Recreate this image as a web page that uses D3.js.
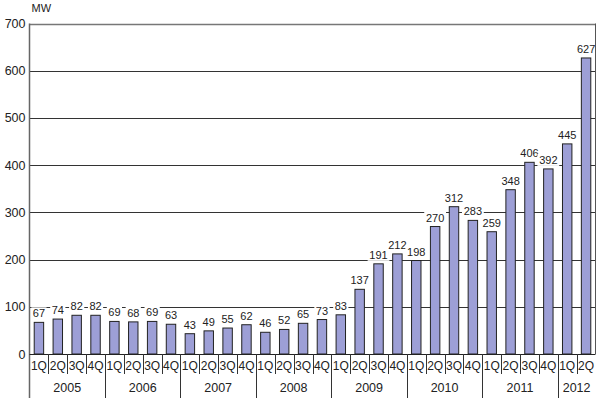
<!DOCTYPE html>
<html>
<head>
<meta charset="utf-8">
<script src="https://cdn.jsdelivr.net/npm/d3@7"></script>
<style>
  body { margin: 0; background: #fff; }
  svg { display: block; font-family: "Liberation Sans", Arial, sans-serif; }
</style>
</head>
<body>
<div id="chart"></div>
<script>
// quarterly values (MW)
const years = ["2005", "2006", "2007", "2008", "2009", "2010", "2011", "2012"];
const quarters = ["1Q", "2Q", "3Q", "4Q"];
const values = [
  67, 74, 82, 82,
  69, 68, 69, 63,
  43, 49, 55, 62,
  46, 52, 65, 73,
  83, 137, 191, 212,
  198, 270, 312, 283,
  259, 348, 406, 392,
  445, 627
];
const yTicks = [0, 100, 200, 300, 400, 500, 600, 700];

const width = 600, height = 398;
const plotLeft = 29.5, plotRight = 595.5, plotTop = 23.5, plotBottom = 354;

const svg = d3.select("#chart").append("svg")
  .attr("width", width)
  .attr("height", height);

const x = d3.scaleBand()
  .domain(d3.range(values.length))
  .range([plotLeft, plotRight])
  .paddingInner(0.5)
  .paddingOuter(0.25);

const y = d3.scaleLinear().domain([0, 700]).range([plotBottom, plotTop]);

// grid lines
svg.append("g").selectAll("line")
  .data(yTicks.filter(d => d > 0))
  .join("line")
  .attr("x1", plotLeft).attr("x2", plotRight)
  .attr("y1", d => Math.round(y(d)) + 0.5).attr("y2", d => Math.round(y(d)) + 0.5)
  .attr("stroke", d => d === 700 ? "#777" : "#333")
  .attr("stroke-width", d => d === 700 ? 1.5 : 1);

// y tick labels
svg.append("g").selectAll("text")
  .data(yTicks)
  .join("text")
  .attr("x", plotLeft - 4)
  .attr("y", d => y(d) + 4.5)
  .attr("text-anchor", "end")
  .attr("font-size", 12.5)
  .attr("fill", "#222")
  .text(d => d);

svg.append("text")
  .attr("x", plotLeft + 2).attr("y", 12)
  .attr("font-size", 11)
  .attr("fill", "#222")
  .text("MW");

// bars
svg.append("g").selectAll("rect")
  .data(values)
  .join("rect")
  .attr("x", (d, i) => x(i))
  .attr("y", d => y(d))
  .attr("width", x.bandwidth())
  .attr("height", d => plotBottom - y(d))
  .attr("fill", "#9d9fd6")
  .attr("stroke", "#222")
  .attr("stroke-width", 1);

// value labels with white knockout
const lab = svg.append("g").selectAll("g")
  .data(values)
  .join("g")
  .attr("transform", (d, i) => `translate(${x(i) + x.bandwidth() / 2},${y(d) - 5})`);
lab.append("rect")
  .attr("x", d => -String(d).length * 3.3 - 1)
  .attr("y", -10)
  .attr("width", d => String(d).length * 6.6 + 2)
  .attr("height", 12)
  .attr("fill", "#fff");
lab.append("text")
  .attr("text-anchor", "middle")
  .attr("font-size", 11)
  .attr("fill", "#222")
  .text(d => d);

// axes lines
svg.append("line")
  .attr("x1", plotLeft).attr("x2", plotLeft)
  .attr("y1", plotTop).attr("y2", height)
  .attr("stroke", "#666").attr("stroke-width", 1.5);
svg.append("line")
  .attr("x1", plotRight).attr("x2", plotRight)
  .attr("y1", plotTop).attr("y2", plotBottom)
  .attr("stroke", "#555").attr("stroke-width", 1);
svg.append("line")
  .attr("x1", plotLeft).attr("x2", plotRight)
  .attr("y1", plotBottom + 0.5).attr("y2", plotBottom + 0.5)
  .attr("stroke", "#222").attr("stroke-width", 1);

// quarter labels and separators
const xs = d3.scaleLinear().domain([0, values.length]).range([plotLeft, plotRight]);

svg.append("g").selectAll("text")
  .data(values)
  .join("text")
  .attr("x", (d, i) => xs(i + 0.5))
  .attr("y", 370)
  .attr("text-anchor", "middle")
  .attr("font-size", 12)
  .attr("fill", "#222")
  .text((d, i) => quarters[i % 4]);

svg.append("g").selectAll("line")
  .data(d3.range(1, values.length).filter(i => i % 4 !== 0))
  .join("line")
  .attr("x1", i => Math.round(xs(i)) + 0.5).attr("x2", i => Math.round(xs(i)) + 0.5)
  .attr("y1", plotBottom).attr("y2", 374)
  .attr("stroke", "#333");

svg.append("g").selectAll("line")
  .data(d3.range(4, values.length, 4))
  .join("line")
  .attr("x1", i => Math.round(xs(i)) + 0.5).attr("x2", i => Math.round(xs(i)) + 0.5)
  .attr("y1", plotBottom).attr("y2", height)
  .attr("stroke", "#333");

// year labels
svg.append("g").selectAll("text")
  .data(years)
  .join("text")
  .attr("x", (d, k) => {
    const a = k * 4, b = Math.min(a + 4, values.length);
    return xs((a + b) / 2);
  })
  .attr("y", 392)
  .attr("text-anchor", "middle")
  .attr("font-size", 12.5)
  .attr("fill", "#222")
  .text(d => d);
</script>
</body>
</html>
